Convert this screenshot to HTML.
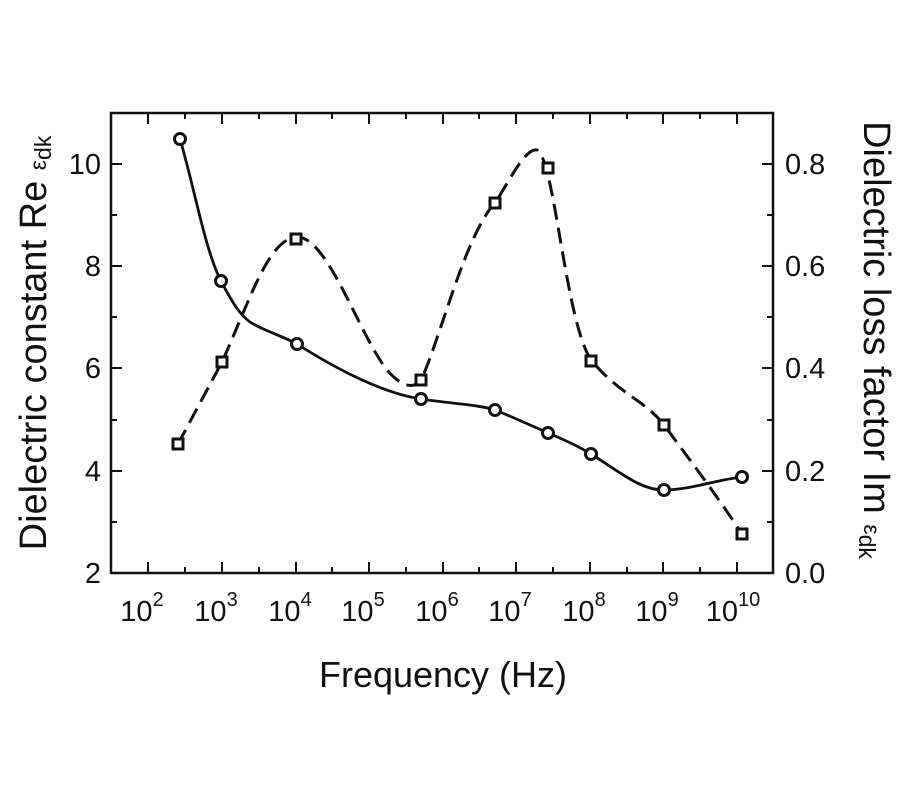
<!DOCTYPE html>
<html><head><meta charset="utf-8"><style>
html,body{margin:0;padding:0;background:#fff;width:900px;height:800px;overflow:hidden}
svg text{font-family:"Liberation Sans",Arial,sans-serif;fill:#111}
</style></head><body>
<svg width="900" height="800" viewBox="0 0 900 800" xmlns="http://www.w3.org/2000/svg">
<rect x="111" y="113" width="662" height="460" fill="none" stroke="#111" stroke-width="2.5"/>
<g stroke="#111" stroke-width="2">
<path d="M111 164h11M111 266h11M111 368h11M111 471h11"/>
<path d="M111 215h6M111 317h6M111 420h6M111 522h6"/>
<path d="M773 164h-11M773 266h-11M773 368h-11M773 471h-11"/>
<path d="M773 215h-6M773 317h-6M773 420h-6M773 522h-6"/>
<path d="M148 573v-11M222 573v-11M296 573v-11M369 573v-11M443 573v-11M516 573v-11M590 573v-11M663 573v-11M737 573v-11"/>
<path d="M185 573v-6M259 573v-6M332 573v-6M406 573v-6M479 573v-6M553 573v-6M627 573v-6M700 573v-6"/>
<path d="M148 113v11M222 113v11M296 113v11M369 113v11M443 113v11M516 113v11M590 113v11M663 113v11M737 113v11"/>
<path d="M185 113v6M259 113v6M332 113v6M406 113v6M479 113v6M553 113v6M627 113v6M700 113v6"/>
</g>
<g font-size="29" text-anchor="end">
<text x="101" y="174">10</text><text x="101" y="276">8</text><text x="101" y="378">6</text><text x="101" y="481">4</text><text x="101" y="583">2</text>
</g>
<g font-size="29" text-anchor="start">
<text x="785" y="174">0.8</text><text x="785" y="276">0.6</text><text x="785" y="378">0.4</text><text x="785" y="481">0.2</text><text x="785" y="583">0.0</text>
</g>
<g font-size="29" text-anchor="middle">
<text x="142" y="621">10<tspan font-size="20" dy="-15">2</tspan></text>
<text x="216" y="621">10<tspan font-size="20" dy="-15">3</tspan></text>
<text x="290" y="621">10<tspan font-size="20" dy="-15">4</tspan></text>
<text x="363" y="621">10<tspan font-size="20" dy="-15">5</tspan></text>
<text x="437" y="621">10<tspan font-size="20" dy="-15">6</tspan></text>
<text x="510" y="621">10<tspan font-size="20" dy="-15">7</tspan></text>
<text x="584" y="621">10<tspan font-size="20" dy="-15">8</tspan></text>
<text x="657" y="621">10<tspan font-size="20" dy="-15">9</tspan></text>
<text x="733" y="621">10<tspan font-size="20" dy="-15">10</tspan></text>
</g>
<text x="443" y="687" font-size="36" text-anchor="middle">Frequency (Hz)</text>
<text transform="translate(46,343) rotate(-90)" font-size="38" text-anchor="middle">Dielectric constant Re <tspan font-size="23">ε<tspan dy="5">dk</tspan></tspan></text>
<text transform="translate(864,340) rotate(90)" font-size="38" text-anchor="middle">Dielectric loss factor Im <tspan font-size="23">ε<tspan dy="5">dk</tspan></tspan></text>
<path d="M180 139 C195 190 205 250 221 281 C232 302 240 315 250 322 C262 330 280 335 297 344 C330 365 380 393 421 399 C455 404 480 405 495 410 C515 418 530 425 548 433 C565 440 578 446 591 454 C620 472 640 490 664 490 C690 490 715 480 742 477" fill="none" stroke="#111" stroke-width="2.8"/>
<path d="M178 444 L222 362 C250 300 268 240 296 237 C330 234 365 355 395 378 C405 387 415 388 421 380 C440 340 465 235 495 203 C510 180 525 148 537 150 C555 160 565 320 591 360 C620 395 645 400 664 425 C690 460 720 500 742 534" fill="none" stroke="#111" stroke-width="3" stroke-dasharray="16 8"/>
<g fill="#fff" stroke="#111" stroke-width="3">
<circle cx="180" cy="139" r="5.5"/><circle cx="221" cy="281" r="5.5"/><circle cx="297" cy="344" r="5.5"/><circle cx="421" cy="399" r="5.5"/><circle cx="495" cy="410" r="5.5"/><circle cx="548" cy="433" r="5.5"/><circle cx="591" cy="454" r="5.5"/><circle cx="664" cy="490" r="5.5"/><circle cx="742" cy="477" r="5.5"/>
<rect x="173" y="439" width="10" height="10"/><rect x="217" y="357" width="10" height="10"/><rect x="291" y="234" width="10" height="10"/><rect x="416" y="375" width="10" height="10"/><rect x="490" y="198" width="10" height="10"/><rect x="543" y="163" width="10" height="10"/><rect x="586" y="356" width="10" height="10"/><rect x="659" y="420" width="10" height="10"/><rect x="737" y="529" width="10" height="10"/>
</g>
</svg>
</body></html>
